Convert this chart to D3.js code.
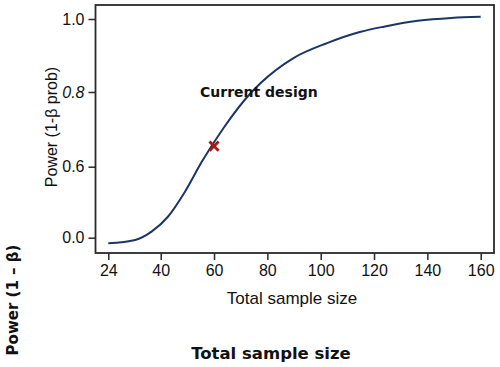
<!DOCTYPE html>
<html>
<head>
<meta charset="utf-8">
<script src="https://cdn.jsdelivr.net/npm/d3@7"></script>
<style>
  body { margin: 0; background: #fff; }
  svg { display: block; }
</style>
</head>
<body>
<div id="chart"></div>
<script>
// power curve
const sampleSize = [24, 32.2, 37.2, 42.7, 49.1, 55.4, 63.5, 73.6, 77.4, 89.8, 102.4, 115, 123.7, 136.4, 149, 160];
const power = [-0.047, -0.019, 0.051, 0.177, 0.389, 0.613, 0.703, 0.796, 0.824, 0.893, 0.934, 0.965, 0.979, 0.995, 1.003, 1.006];

// the current design marker
const designN = [60];
const designPower = [0.655];

// tick labels as printed on the axes
const xTicks = [24, 40, 60, 80, 100, 120, 140, 160];
const yTicks = [0.0, 0.6, 0.8, 1.0];

const width = 500, height = 367;
const frame = {left: 95.5, top: 5, right: 494, bottom: 253};

const svg = d3.select("#chart")
  .append("svg")
    .attr("width", width)
    .attr("height", height);

// axis ticks are not evenly spread, so piecewise scales
const x = d3.scaleLinear()
  .domain([24, 40, 160])
  .range([108.3, 160.7, 480.7]);

const y = d3.scaleLinear()
  .domain([0, 0.6, 0.8, 1.0])
  .range([237.7, 166.7, 92, 19]);

// frame
svg.append("rect")
  .attr("x", frame.left)
  .attr("y", frame.top)
  .attr("width", frame.right - frame.left)
  .attr("height", frame.bottom - frame.top)
  .attr("fill", "none")
  .attr("stroke", "#2a2a2a")
  .attr("stroke-width", 1.8);

const xAxis = svg.append("g")
  .attr("transform", `translate(0, ${frame.bottom})`)
  .call(d3.axisBottom(x).tickValues(xTicks).tickFormat(d3.format("d")).tickSize(7).tickPadding(5));

const yAxis = svg.append("g")
  .attr("transform", `translate(${frame.left}, 0)`)
  .call(d3.axisLeft(y).tickValues(yTicks).tickFormat(d3.format(".1f")).tickSize(7).tickPadding(4));

[xAxis, yAxis].forEach(g => {
  g.select(".domain").remove();
  g.selectAll("line").attr("stroke", "#2a2a2a").attr("stroke-width", 1.5);
  g.selectAll("text")
    .attr("fill", "#111")
    .style("font-family", "'Liberation Sans', Arial, sans-serif")
    .style("font-size", "16px");
});
// the 0.8 label is printed in italics
yAxis.selectAll("text").filter(d => d === 0.8).style("font-style", "italic");

// inner axis titles
svg.append("text")
  .attr("x", 292)
  .attr("y", 304)
  .attr("text-anchor", "middle")
  .style("font-family", "'Liberation Sans', Arial, sans-serif")
  .style("font-size", "17px")
  .attr("fill", "#111")
  .text("Total sample size");

svg.append("text")
  .attr("transform", "translate(57, 127) rotate(-90)")
  .attr("text-anchor", "middle")
  .style("font-family", "'Liberation Sans', Arial, sans-serif")
  .style("font-size", "16px")
  .attr("fill", "#111")
  .text("Power (1-β prob)");

// the curve
const line = d3.line()
  .x((d, i) => x(sampleSize[i]))
  .y((d, i) => y(power[i]))
  .curve(d3.curveMonotoneX);

svg.append("path")
  .datum(power)
  .attr("d", line)
  .attr("fill", "none")
  .attr("stroke", "#1c3565")
  .attr("stroke-width", 2);

// marker
svg.selectAll(".design")
  .data(designN)
  .join("path")
    .attr("class", "design")
    .attr("transform", (d, i) => `translate(${x(d)}, ${y(designPower[i])}) rotate(45)`)
    .attr("d", "M-6.5,0H6.5M0,-6.5V6.5")
    .attr("stroke", "#a81818")
    .attr("stroke-width", 2.8)
    .attr("fill", "none");

svg.append("text")
  .attr("x", 200)
  .attr("y", 97)
  .style("font-family", "'DejaVu Sans', Verdana, sans-serif")
  .style("font-weight", "bold")
  .style("font-size", "14px")
  .attr("fill", "#111")
  .text("Current design");

// outer titles
svg.append("text")
  .attr("x", 271)
  .attr("y", 359)
  .attr("text-anchor", "middle")
  .style("font-family", "'DejaVu Sans', Verdana, sans-serif")
  .style("font-weight", "bold")
  .style("font-size", "16.5px")
  .attr("fill", "#111")
  .text("Total sample size");

svg.append("text")
  .attr("transform", "translate(18, 300) rotate(-90)")
  .attr("text-anchor", "middle")
  .style("font-family", "'DejaVu Sans', Verdana, sans-serif")
  .style("font-weight", "bold")
  .style("font-size", "15px")
  .attr("fill", "#111")
  .text("Power (1 – β)");
</script>
</body>
</html>
